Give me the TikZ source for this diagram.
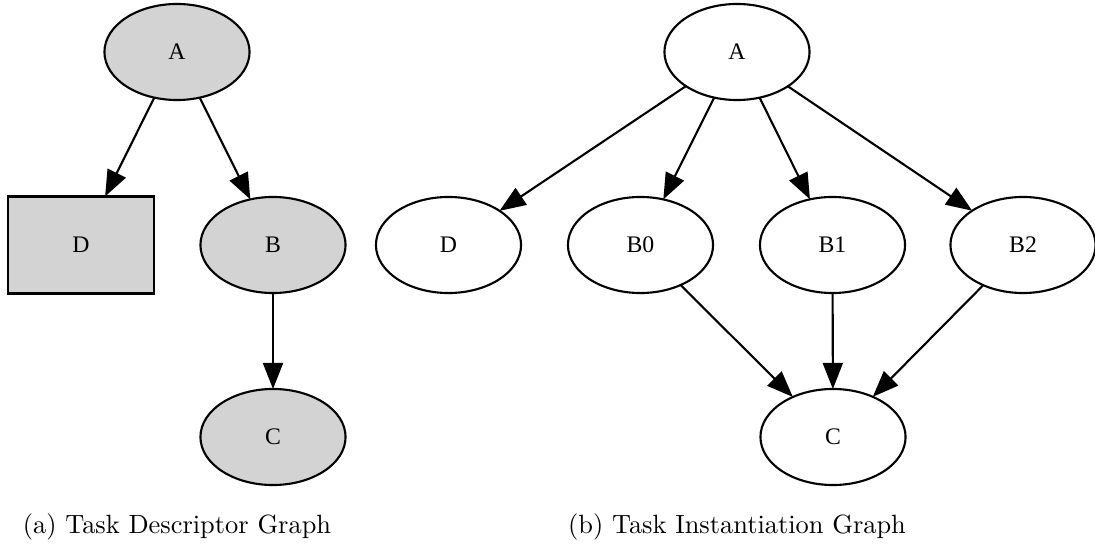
\documentclass[tikz,border=0pt]{standalone}
\usepackage{fontspec}
\newfontfamily\nodefont{Liberation Serif}
\usetikzlibrary{shapes.geometric,arrows.meta}
\definecolor{nodegray}{HTML}{D3D3D3}
\begin{document}
\begin{tikzpicture}[x=0.379pt,y=-0.379pt,
  ell/.style={ellipse,draw,line width=0.8pt,minimum width=55pt,minimum height=36.4pt,inner sep=0pt,outer sep=0pt,font=\nodefont\fontsize{9}{10}\selectfont},
  boxnode/.style={rectangle,draw,line width=0.8pt,minimum width=55pt,minimum height=36.8pt,inner sep=0pt,outer sep=0pt,font=\nodefont\fontsize{9}{10}\selectfont},
  gfill/.style={fill=nodegray},
  edge/.style={line width=0.8pt,-{Triangle[length=9.9pt,width=7.6pt]}},
  captext/.style={font=\fontsize{10}{12}\selectfont,inner sep=0pt}]
\useasboundingbox (0,0) rectangle (1095,545);
% (a) Task Descriptor Graph
\node[ell,gfill] (aA) at (177,52) {A};
\node[boxnode,gfill] (aD) at (81,245) {D};
\node[ell,gfill] (aB) at (273,245) {B};
\node[ell,gfill] (aC) at (273,437) {C};
\draw[edge] (aA) -- (aD);
\draw[edge] (aA) -- (aB);
\draw[edge] (aB) -- (aC);
\node[captext] (capa) at (177,527) {(a) Task Descriptor Graph};
% (b) Task Instantiation Graph
\node[ell] (bA) at (737,52) {A};
\node[ell] (bD) at (448.5,245) {D};
\node[ell] (bB0) at (640.5,245) {B0};
\node[ell] (bB1) at (832.5,245) {B1};
\node[ell] (bB2) at (1023,245) {B2};
\node[ell] (bC) at (833,437) {C};
\draw[edge] (bA) -- (bD);
\draw[edge] (bA) -- (bB0);
\draw[edge] (bA) -- (bB1);
\draw[edge] (bA) -- (bB2);
\draw[edge] (bB0) -- (bC);
\draw[edge] (bB1) -- (bC);
\draw[edge] (bB2) -- (bC);
\node[captext] (capb) at (737,527) {(b) Task Instantiation Graph};
\end{tikzpicture}
\end{document}
